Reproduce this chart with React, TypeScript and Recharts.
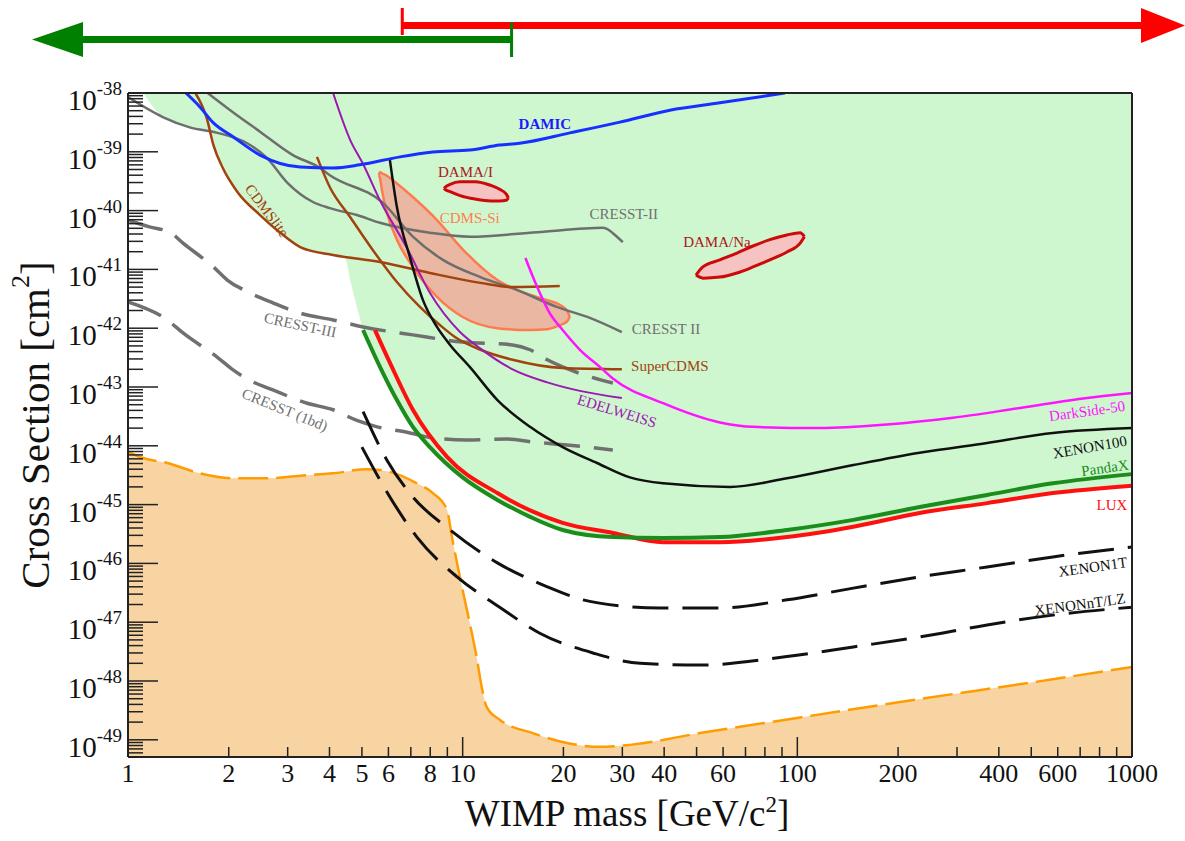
import {
  Area,
  ComposedChart,
  Label,
  Line,
  ReferenceLine,
  Scatter,
  XAxis,
  YAxis,
} from 'recharts'

type Pt = [number, number] // [WIMP mass GeV/c^2, cross section cm^2]
type Band = [number, number, number] // [mass, lower sigma, upper sigma]

const SERIF = '"Liberation Serif", "Times New Roman", serif'

const X_MIN = 1
const X_MAX = 1000
const Y_MIN = 5.1e-50
const Y_MAX = 1e-38

const X_TICKS = [1, 2, 3, 4, 5, 6, 7, 8, 9, 10, 20, 30, 40, 50, 60, 70, 80, 90, 100, 200, 300, 400, 500, 600, 700, 800, 900, 1000]
const X_LABELS = [1, 2, 3, 4, 5, 6, 8, 10, 20, 30, 40, 60, 100, 200, 400, 600, 1000]
const Y_DECADES = [-50, -49, -48, -47, -46, -45, -44, -43, -42, -41, -40, -39, -38]
const Y_MULTS = [1, 2, 3, 4, 5, 6, 7, 8, 9]

const DAMIC: Pt[] = [[1.49, 1e-38], [1.64, 5.8e-39], [1.8, 3.1e-39], [2.06, 1.8e-39], [2.48, 8.8e-40], [3.27, 5.5e-40], [4.1, 5.3e-40], [4.93, 6.0e-40], [6.5, 8.2e-40], [8.15, 9.9e-40], [10.5, 1.07e-39], [12.9, 1.3e-39], [14.8, 1.4e-39], [20.9, 2.1e-39], [29.5, 3.2e-39], [41.6, 5.1e-39], [58.7, 6.8e-39], [91.8, 1e-38]]
const CRESST_II_A: Pt[] = [[1.0, 8.5e-39], [1.27, 3.9e-39], [1.53, 2.6e-39], [1.85, 2.1e-39], [2.27, 1.4e-39], [2.6, 7.9e-40], [2.99, 3.0e-40], [3.57, 1.4e-40], [4.01, 1.1e-40], [4.83, 8.4e-41], [5.66, 6.2e-41], [7.98, 4.2e-41], [10.5, 3.6e-41], [16.7, 4.3e-41], [26.3, 5.1e-41], [28.9, 3.6e-41], [30.1, 2.9e-41]]
const CRESST_II_B: Pt[] = [[1.73, 1e-38], [2.02, 5.1e-39], [2.48, 2.2e-39], [3.11, 8.8e-40], [3.75, 5.3e-40], [4.01, 4.0e-40], [5.78, 1.35e-40], [7.1, 3.6e-41], [8.73, 1.45e-41], [11.3, 7.4e-42], [14.5, 4.5e-42], [19.1, 2.3e-42], [24.0, 1.5e-42], [29.9, 8.6e-43]]
const CDMSLITE: Pt[] = [[1.59, 1e-38], [1.72, 3.7e-39], [1.8, 1.3e-39], [1.92, 5.3e-40], [2.12, 2.1e-40], [2.48, 8.4e-41], [2.85, 4.2e-41], [3.27, 2.4e-41], [4.1, 1.76e-41], [5.66, 1.34e-41], [7.98, 8.7e-42], [11.3, 5.9e-42], [14.1, 5.0e-42], [19.5, 5.2e-42]]
const SUPERCDMS: Pt[] = [[3.67, 8.2e-40], [4.01, 2.5e-40], [4.61, 7.8e-41], [5.4, 2.1e-41], [6.36, 6.1e-42], [7.45, 2.3e-42], [8.55, 1.13e-42], [9.48, 7.1e-43], [11.3, 4.3e-43], [14.1, 2.9e-43], [19.9, 2.1e-43], [29.9, 2.0e-43]]
const EDELWEISS: Pt[] = [[4.1, 1e-38], [4.61, 1.6e-39], [5.04, 6.2e-40], [5.66, 1.5e-40], [6.82, 2.3e-41], [7.98, 4.0e-42], [9.82, 8.6e-43], [11.3, 4.5e-43], [14.1, 2.0e-43], [17.9, 1.2e-43], [22.4, 8.6e-44], [29.9, 6.5e-44]]
const XENON100: Pt[] = [[6.06, 7.3e-40], [6.36, 1.15e-40], [6.96, 1.6e-41], [7.61, 3.0e-42], [8.38, 1.05e-42], [9.17, 5.2e-43], [10.5, 2.2e-43], [12.7, 6.0e-44], [15.9, 2.1e-44], [19.9, 9.5e-45], [25.2, 5.1e-45], [31.6, 2.9e-45], [39.7, 2.3e-45], [62.9, 2.0e-45], [93.1, 2.8e-45], [147, 4.7e-45], [232, 7.6e-45], [369, 1.12e-44], [580, 1.65e-44], [1000, 2.0e-44]]
const DARKSIDE: Pt[] = [[15.4, 1.56e-41], [16.7, 5.0e-42], [18.2, 1.8e-42], [19.9, 9.3e-43], [22.4, 4.3e-43], [25.7, 2.2e-43], [28.1, 1.4e-43], [39.7, 5.3e-44], [58.7, 2.5e-44], [73.7, 2.1e-44], [117, 2.0e-44], [185, 2.3e-44], [292, 3.0e-44], [463, 4.4e-44], [734, 6.5e-44], [1000, 7.9e-44]]
const PANDAX: Pt[] = [[5.04, 9.3e-43], [5.66, 2.2e-43], [6.36, 6.0e-44], [7.1, 2.1e-44], [7.98, 9.5e-45], [10.0, 2.9e-45], [12.7, 1.2e-45], [15.9, 6.2e-46], [19.9, 3.7e-46], [28.1, 2.8e-46], [39.7, 2.7e-46], [58.7, 2.8e-46], [93.1, 3.7e-46], [147, 5.5e-46], [232, 9.1e-46], [369, 1.46e-45], [580, 2.3e-45], [1000, 3.3e-45]]
const LUX: Pt[] = [[5.47, 9.3e-43], [6.06, 2.6e-43], [7.1, 4.1e-44], [8.98, 6.5e-45], [12.7, 1.57e-45], [19.9, 4.9e-46], [28.1, 3.3e-46], [39.7, 2.3e-46], [58.7, 2.3e-46], [93.1, 2.8e-46], [147, 4.2e-46], [232, 7.2e-46], [369, 1.06e-45], [580, 1.57e-45], [1000, 2.1e-45]]
const CRESST_III: Pt[] = [[1.0, 6.9e-41], [1.16, 5.3e-41], [1.34, 4.2e-41], [1.46, 2.8e-41], [1.8, 1.1e-41], [1.98, 6.6e-42], [2.31, 4.0e-42], [2.71, 2.7e-42], [3.27, 1.8e-42], [4.1, 1.38e-42], [5.04, 1.05e-42], [7.1, 7.7e-43], [10.0, 5.8e-43], [14.1, 5.2e-43], [15.9, 4.3e-43], [17.9, 2.9e-43], [22.4, 1.7e-43], [28.1, 1.17e-43]]
const CRESST_1BD: Pt[] = [[1.0, 2.8e-42], [1.31, 1.38e-42], [1.46, 8.3e-43], [1.85, 3.2e-43], [2.06, 1.95e-43], [2.31, 1.3e-43], [2.71, 8.9e-44], [3.43, 5.3e-44], [4.1, 4.1e-44], [4.83, 2.7e-44], [5.55, 2.1e-44], [6.82, 1.7e-44], [8.15, 1.36e-44], [10.3, 1.26e-44], [13.6, 1.3e-44], [16.2, 1.16e-44], [20.5, 1.03e-44], [28.1, 8.5e-45]]
const XENON1T: Pt[] = [[5.04, 3.8e-44], [5.94, 5.7e-45], [7.1, 1.35e-45], [9.17, 3.7e-46], [12.7, 1.02e-46], [17.9, 4.0e-47], [22.9, 2.4e-47], [29.5, 1.9e-47], [38.9, 1.74e-47], [58.7, 1.74e-47], [93.1, 2.4e-47], [147, 3.8e-47], [232, 5.9e-47], [369, 8.7e-47], [580, 1.29e-46], [1000, 1.9e-46]]
const XENONNT: Pt[] = [[5.0, 9.5e-45], [6.06, 1.35e-45], [7.3, 2.8e-46], [9.62, 5.9e-47], [12.9, 1.8e-47], [17.0, 6.5e-48], [24.5, 3.0e-48], [33.9, 2.0e-48], [51.2, 1.87e-48], [93.1, 2.6e-48], [147, 3.8e-48], [232, 5.6e-48], [369, 9.0e-48], [580, 1.32e-47], [1000, 1.8e-47]]
const NU_FLOOR: Pt[] = [[1.0, 7.9e-45], [1.11, 6.2e-45], [1.31, 5.1e-45], [1.64, 3.4e-45], [2.06, 2.8e-45], [2.6, 2.8e-45], [3.27, 3.1e-45], [4.1, 3.4e-45], [5.18, 4.0e-45], [6.06, 3.6e-45], [7.3, 2.3e-45], [8.15, 1.57e-45], [8.98, 8.1e-46], [9.29, 2.8e-46], [9.62, 1.02e-46], [10.0, 3.5e-47], [10.5, 9.7e-48], [11.0, 2.6e-48], [11.4, 7.9e-49], [11.8, 3.6e-49], [12.9, 2.2e-49], [16.2, 1.3e-49], [20.5, 8.8e-50], [25.7, 7.6e-50], [31.6, 8.2e-50], [51.2, 1.3e-49], [102, 2.4e-49], [222, 4.75e-49], [580, 1.07e-48], [1000, 1.73e-48]]
// lower edge of the shaded (excluded) region; its upper edge is the top of the plot
const EXCLUDED_LOWER: Pt[] = [[1.11, 1e-38], [1.27, 3.9e-39], [1.53, 2.6e-39], [1.76, 2.3e-39], [1.8, 1.3e-39], [1.92, 5.3e-40], [2.12, 2.1e-40], [2.48, 8.4e-41], [2.85, 4.2e-41], [3.27, 2.4e-41], [4.1, 1.76e-41], [4.45, 1.56e-41], [4.61, 6.6e-42], [4.83, 2.3e-42], [5.04, 9.3e-43], [5.66, 2.2e-43], [6.36, 6.0e-44], [7.1, 2.1e-44], [7.98, 9.5e-45], [10.0, 2.9e-45], [12.7, 1.2e-45], [15.9, 6.2e-46], [19.9, 3.7e-46], [28.1, 2.8e-46], [39.7, 2.3e-46], [58.7, 2.3e-46], [93.1, 2.8e-46], [147, 4.2e-46], [232, 7.2e-46], [369, 1.06e-45], [580, 1.57e-45], [1000, 2.1e-45]]
const CDMS_SI: Band[] = [[5.62, 4.0e-40, 4.0e-40], [5.66, 3.6e-40, 4.5e-40], [5.74, 2.2e-40, 4.3e-40], [5.94, 9.1e-41, 3.9e-40], [6.36, 3.2e-41, 2.9e-40], [7.1, 1.1e-41, 1.7e-40], [8.38, 3.4e-42, 6.9e-41], [10.0, 1.55e-42, 2.2e-41], [12.7, 1.0e-42, 6.6e-42], [15.9, 9.3e-43, 3.7e-42], [17.9, 9.6e-43, 3.0e-42], [19.5, 1.13e-42, 2.5e-42], [20.5, 1.3e-42, 2.0e-42], [20.9, 1.55e-42, 1.55e-42]]
const DAMA_I: Band[] = [[8.8, 2.4e-40, 2.4e-40], [8.86, 2.3e-40, 2.5e-40], [9.17, 2.1e-40, 2.8e-40], [9.82, 1.8e-40, 3.1e-40], [10.9, 1.57e-40, 3.1e-40], [12.1, 1.46e-40, 2.7e-40], [12.9, 1.46e-40, 2.3e-40], [13.5, 1.5e-40, 1.9e-40], [13.7, 1.64e-40, 1.64e-40]]
const DAMA_NA: Band[] = [[49.8, 8.0e-42, 8.0e-42], [52.2, 7.1e-42, 1.1e-41], [58.7, 7.4e-42, 1.45e-41], [66.0, 8.7e-42, 1.9e-41], [73.7, 1.1e-41, 2.5e-41], [82.8, 1.45e-41, 3.2e-41], [93.1, 1.98e-41, 3.85e-41], [102, 2.8e-41, 4.2e-41], [105, 3.6e-41, 3.6e-41]]

const LABELS = [
  { text: 'DAMIC', m: 17.6, s: 3.0e-39 },
  { text: 'DAMA/I', m: 10.2, s: 4.5e-40 },
  { text: 'CDMS-Si', m: 10.5, s: 7.5e-41 },
  { text: 'CRESST-II', m: 30.3, s: 8.7e-41 },
  { text: 'DAMA/Na', m: 57.5, s: 2.9e-41 },
  { text: 'CRESST II', m: 40.5, s: 9.6e-43 },
  { text: 'SuperCDMS', m: 41.6, s: 2.3e-43 },
  { text: 'EDELWEISS', m: 28.9, s: 3.9e-44 },
  { text: 'CDMSlite', m: 2.6, s: 1.0e-40 },
  { text: 'CRESST-III', m: 3.27, s: 1.13e-42 },
  { text: 'CRESST (1bd)', m: 2.94, s: 4.1e-44 },
  { text: 'DarkSide-50', m: 734, s: 3.9e-44 },
  { text: 'XENON100', m: 748, s: 9.5e-45 },
  { text: 'PandaX', m: 830, s: 4.2e-45 },
  { text: 'LUX', m: 871, s: 1.0e-45 },
  { text: 'XENON1T', m: 764, s: 8.7e-47 },
  { text: 'XENONnT/LZ', m: 699, s: 2.0e-47 },
]

const LABEL_STYLE: Record<string, { color: string; angle: number; bold?: boolean }> = {
  DAMIC: { color: '#1a1aff', angle: 0, bold: true },
  'DAMA/I': { color: '#b0141a', angle: 0 },
  'CDMS-Si': { color: '#ff7f50', angle: 0 },
  'CRESST-II': { color: '#707070', angle: 0 },
  'DAMA/Na': { color: '#b0141a', angle: 0 },
  'CRESST II': { color: '#707070', angle: 0 },
  SuperCDMS: { color: '#a2420e', angle: 0 },
  EDELWEISS: { color: '#9b19b0', angle: 17 },
  CDMSlite: { color: '#a2420e', angle: 53 },
  'CRESST-III': { color: '#707070', angle: 12 },
  'CRESST (1bd)': { color: '#707070', angle: 22 },
  'DarkSide-50': { color: '#ff14ff', angle: -8 },
  XENON100: { color: '#111111', angle: -10 },
  PandaX: { color: '#1c8c1c', angle: -8 },
  LUX: { color: '#ff1010', angle: 0 },
  XENON1T: { color: '#111111', angle: -8 },
  'XENONnT/LZ': { color: '#111111', angle: -8 },
}

// top arrows: red bar starts at this mass, green bar ends at this one
const RED_FROM = 6.6
const GREEN_TO = 14

const W = 1185
const H = 841
const PLOT = { left: 128, right: 1132, top: 93, bottom: 757 }
const Y_AXIS_W = 100
const X_AXIS_H = 70

const Y_TICKS = Y_DECADES.flatMap((e) => Y_MULTS.map((k) => k * 10 ** e)).filter(
  (v) => v >= Y_MIN && v <= Y_MAX * 1.000001,
)

const pts = (a: Pt[]) => a.map(([m, s]) => ({ m, s }))
const band = (a: Band[]) => a.map(([m, lo, hi]) => ({ m, r: [lo, hi] }))
const excluded = EXCLUDED_LOWER.map(([m, s]) => ({ m, r: [s, Y_MAX] }))

const xPx = (m: number) => PLOT.left + ((PLOT.right - PLOT.left) * Math.log10(m / X_MIN)) / Math.log10(X_MAX / X_MIN)

const XTick = (props: any) => {
  const { x, y, payload } = props
  const v = payload.value
  const len = v === 10 || v === 100 ? 20 : 10
  return (
    <g>
      <line x1={x} x2={x} y1={y} y2={y - len} stroke="#222" strokeWidth={1.5} />
      {X_LABELS.includes(v) && (
        <text x={x} y={y + 25} textAnchor="middle" style={{ fontFamily: SERIF }} fontSize={26} fill="#111">
          {v}
        </text>
      )}
    </g>
  )
}

const YTick = (props: any) => {
  const { x, y, payload } = props
  const e = Math.log10(payload.value)
  const major = Math.abs(e - Math.round(e)) < 1e-6
  return (
    <g>
      <line x1={x} x2={x + (major ? 30 : 15)} y1={y} y2={y} stroke="#222" strokeWidth={1.5} />
      {major && (
        <text x={x - 6} y={y + 17} textAnchor="end" style={{ fontFamily: SERIF }} fontSize={29} fill="#111">
          10
          <tspan dy={-15} fontSize={19}>
            {Math.round(e)}
          </tspan>
        </text>
      )}
    </g>
  )
}

const YTitle = (props: any) => {
  const vb = props.viewBox ?? {}
  const x = (vb.x ?? 28) + 7
  const y = (vb.y ?? PLOT.top) + (vb.height ?? PLOT.bottom - PLOT.top) / 2
  return (
    <text
      transform={`translate(${x},${y}) rotate(-90)`}
      textAnchor="middle"
      dominantBaseline="central"
      style={{ fontFamily: SERIF }}
      fontSize={41}
      fill="#111"
    >
      Cross Section [cm
      <tspan dy={-15} fontSize={26}>
        2
      </tspan>
      <tspan dy={15}>]</tspan>
    </text>
  )
}

const XTitle = (props: any) => {
  const vb = props.viewBox ?? {}
  const x = (vb.x ?? PLOT.left) + (vb.width ?? PLOT.right - PLOT.left) / 2
  const y = (vb.y ?? PLOT.bottom) + 69
  return (
    <text x={x - 3} y={y} textAnchor="middle" style={{ fontFamily: SERIF }} fontSize={37} fill="#111">
      WIMP mass [GeV/c
      <tspan dy={-14} fontSize={23}>
        2
      </tspan>
      <tspan dy={14}>]</tspan>
    </text>
  )
}

const CurveLabel = (props: any) => {
  const { cx, cy, payload } = props
  const st = LABEL_STYLE[payload.text]
  return (
    <text
      x={cx}
      y={cy}
      transform={`rotate(${st.angle} ${cx} ${cy})`}
      textAnchor="middle"
      dominantBaseline="central"
      style={{ fontFamily: SERIF }}
      fontSize={15}
      fontWeight={st.bold ? 700 : 400}
      fill={st.color}
    >
      {payload.text}
    </text>
  )
}

export default function App() {
  const line = (data: Pt[], color: string, width: number, dash?: string) => (
    <Line
      data={pts(data)}
      dataKey="s"
      type="monotone"
      stroke={color}
      strokeWidth={width}
      strokeDasharray={dash}
      dot={false}
      activeDot={false}
      isAnimationActive={false}
    />
  )

  return (
    <div style={{ position: 'absolute', left: 0, top: 0, width: W, height: H, background: '#fff' }}>
      <ComposedChart
        width={W}
        height={H}
        margin={{
          top: PLOT.top,
          right: W - PLOT.right,
          bottom: H - PLOT.bottom - X_AXIS_H,
          left: PLOT.left - Y_AXIS_W,
        }}
      >
        <XAxis
          dataKey="m"
          type="number"
          scale="log"
          domain={[X_MIN, X_MAX]}
          allowDataOverflow
          ticks={X_TICKS}
          interval={0}
          tickSize={0}
          tickMargin={0}
          tickLine={false}
          tick={<XTick />}
          height={X_AXIS_H}
          axisLine={{ stroke: '#222', strokeWidth: 2 }}
        >
          <Label content={<XTitle />} />
        </XAxis>
        <YAxis
          type="number"
          scale="log"
          domain={[Y_MIN, Y_MAX]}
          allowDataOverflow
          ticks={Y_TICKS}
          interval={0}
          tickSize={0}
          tickMargin={0}
          tickLine={false}
          tick={<YTick />}
          width={Y_AXIS_W}
          axisLine={{ stroke: '#222', strokeWidth: 2 }}
        >
          <Label content={<YTitle />} />
        </YAxis>

        <Area data={excluded} dataKey="r" type="monotone" stroke="none" fill="#cff7cf" fillOpacity={1} isAnimationActive={false} activeDot={false} />
        <Area
          data={pts(NU_FLOOR)}
          dataKey="s"
          type="monotone"
          baseValue={Y_MIN}
          stroke="#ff9c00"
          strokeWidth={2.5}
          strokeDasharray="30 8"
          fill="#f8d4a2"
          fillOpacity={1}
          isAnimationActive={false}
          activeDot={false}
        />
        <Area data={band(CDMS_SI)} dataKey="r" type="monotone" stroke="#ff7b4f" strokeWidth={2.5} fill="#eab8a2" fillOpacity={1} isAnimationActive={false} activeDot={false} />
        <Area data={band(DAMA_I)} dataKey="r" type="monotone" stroke="#cc0a0a" strokeWidth={3} fill="#f6c3c3" fillOpacity={1} isAnimationActive={false} activeDot={false} />
        <Area data={band(DAMA_NA)} dataKey="r" type="monotone" stroke="#cc0a0a" strokeWidth={3} fill="#f6c3c3" fillOpacity={1} isAnimationActive={false} activeDot={false} />

        {line(CRESST_III, '#707070', 3.5, '36 14')}
        {line(CRESST_1BD, '#707070', 3.5, '36 14')}
        {line(XENON1T, '#111', 3, '36 14')}
        {line(XENONNT, '#111', 3, '36 14')}
        {line(CRESST_II_A, '#6e6e6e', 2.5)}
        {line(CRESST_II_B, '#6e6e6e', 2.5)}
        {line(CDMSLITE, '#a2420e', 2.5)}
        {line(SUPERCDMS, '#a2420e', 2.5)}
        {line(EDELWEISS, '#9b19b0', 2)}
        {line(DARKSIDE, '#ff14ff', 2.5)}
        {line(XENON100, '#111', 2.5)}
        {line(LUX, '#ff1010', 4)}
        {line(PANDAX, '#1c8c1c', 4)}
        {line(DAMIC, '#1530ff', 3)}

        <Scatter data={LABELS} dataKey="s" shape={CurveLabel} isAnimationActive={false} />

        <ReferenceLine y={Y_MAX} stroke="#222" strokeWidth={2} />
        <ReferenceLine x={X_MAX} stroke="#222" strokeWidth={2} />
      </ComposedChart>

      <svg width={W} height={80} style={{ position: 'absolute', left: 0, top: 0 }}>
        <rect x={xPx(RED_FROM) - 1.5} y={8} width={3} height={27} fill="#ff0000" />
        <rect x={xPx(RED_FROM)} y={22} width={1142 - xPx(RED_FROM)} height={7} fill="#ff0000" />
        <polygon points={`1141,8 ${W},25.5 1141,43`} fill="#ff0000" />
        <rect x={xPx(GREEN_TO) - 1.5} y={22} width={3} height={35} fill="#008000" />
        <rect x={80} y={36} width={xPx(GREEN_TO) - 80} height={7} fill="#008000" />
        <polygon points={`83,22 32,39.5 83,57`} fill="#008000" />
      </svg>
    </div>
  )
}
